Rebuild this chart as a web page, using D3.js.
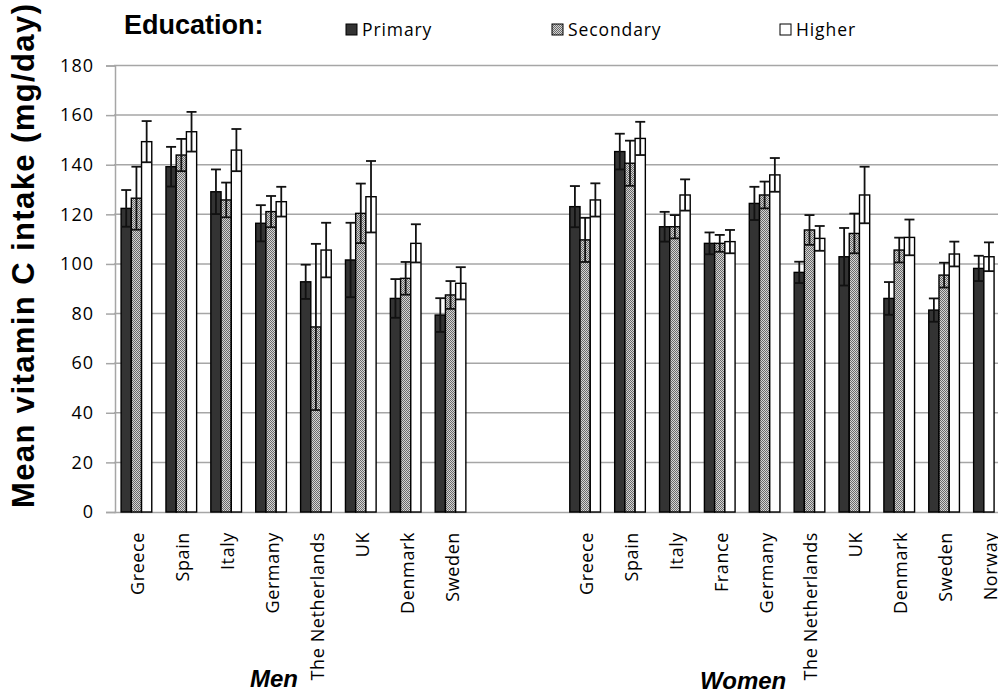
<!DOCTYPE html>
<html>
<head>
<meta charset="utf-8">
<script src="https://cdn.jsdelivr.net/npm/d3@7"></script>
<style>
  html, body { margin: 0; padding: 0; background: #fff; }
  svg { display: block; }
</style>
</head>
<body>
<svg id="chart" width="998" height="695"></svg>
<script>
// ---------------- DATA ----------------
const seriesNames = ["Primary", "Secondary", "Higher"];
const menCountries = ["Greece", "Spain", "Italy", "Germany", "The Netherlands", "UK", "Denmark", "Sweden"];
const womenCountries = ["Greece", "Spain", "Italy", "France", "Germany", "The Netherlands", "UK", "Denmark", "Sweden", "Norway"];
const gapSlots = 2;

const menPrimary      = [122.4, 139.2, 129.1, 116.4, 92.8, 101.6, 86.1, 79.4];
const menPrimaryErr   = [7.4, 8.0, 9.0, 7.3, 6.9, 15.0, 7.8, 6.8];
const menSecondary    = [126.5, 143.9, 125.8, 121.1, 74.6, 120.4, 94.2, 87.5];
const menSecondaryErr = [12.7, 6.5, 7.0, 6.3, 33.5, 12.0, 6.6, 5.6];
const menHigher       = [149.3, 153.3, 145.9, 125.1, 105.6, 127.1, 108.3, 92.2];
const menHigherErr    = [8.3, 8.0, 8.5, 6.0, 11.0, 14.4, 7.7, 6.5];

const womenPrimary      = [123.1, 145.3, 115.0, 108.3, 124.4, 96.6, 102.9, 86.1, 81.4, 98.2];
const womenPrimaryErr   = [8.3, 7.2, 6.0, 4.4, 6.7, 4.3, 11.6, 6.6, 4.7, 5.1];
const womenSecondary    = [109.7, 140.6, 115.0, 108.3, 127.8, 113.7, 112.3, 105.6, 95.5, null];
const womenSecondaryErr = [8.9, 9.1, 4.7, 3.4, 5.4, 6.0, 8.0, 5.0, 5.0, null];
const womenHigher       = [125.8, 150.6, 127.8, 109.0, 135.9, 110.3, 127.8, 110.7, 104.0, 102.9];
const womenHigherErr    = [6.7, 6.7, 6.3, 4.7, 6.8, 5.0, 11.4, 7.2, 5.0, 5.8];

const yTicks = [0, 20, 40, 60, 80, 100, 120, 140, 160, 180];
const yTitle = "Mean vitamin C intake (mg/day)";
const legendTitle = "Education:";
const groupLabels = ["Men", "Women"];

// ---------------- BUILD ROWS ----------------
const rows = [];
menCountries.forEach((c, i) => rows.push({
  label: c,
  vals: [menPrimary[i], menSecondary[i], menHigher[i]],
  errs: [menPrimaryErr[i], menSecondaryErr[i], menHigherErr[i]]
}));
for (let g = 0; g < gapSlots; g++) rows.push({ label: "", vals: [null, null, null], errs: [null, null, null] });
womenCountries.forEach((c, i) => rows.push({
  label: c,
  vals: [womenPrimary[i], womenSecondary[i], womenHigher[i]],
  errs: [womenPrimaryErr[i], womenSecondaryErr[i], womenHigherErr[i]]
}));
rows.forEach((r, i) => r.key = i);

// ---------------- SCALES ----------------
const svg = d3.select("#chart");
const left = 114, bandW = 44.87;
const x0 = d3.scaleBand().domain(rows.map(r => r.key)).range([left, left + bandW * rows.length]).padding(0);
const x1 = d3.scaleBand().domain([0, 1, 2]).range([7.1, bandW - 7.1]).padding(0);
const y = d3.scaleLinear().domain([0, 180]).range([512, 65.5]);

// pattern for secondary
const defs = svg.append("defs");
const pat = defs.append("pattern").attr("id", "checker").attr("patternUnits", "userSpaceOnUse")
  .attr("width", 2).attr("height", 2);
pat.append("rect").attr("width", 2).attr("height", 2).attr("fill", "#d4d4d4");
pat.append("rect").attr("width", 1).attr("height", 1).attr("fill", "#6a6a6a");
pat.append("rect").attr("x", 1).attr("y", 1).attr("width", 1).attr("height", 1).attr("fill", "#6a6a6a");
const fills = ["#333333", "url(#checker)", "#ffffff"];

// ---------------- GRID & AXES ----------------
const grid = svg.append("g");
grid.selectAll("line").data(yTicks.filter(t => t > 0)).join("line")
  .attr("x1", left).attr("x2", 998)
  .attr("y1", d => y(d)).attr("y2", d => y(d))
  .attr("stroke", "#a6a6a6").attr("stroke-width", 1.5);

const yAxis = svg.append("g").attr("transform", `translate(${left + 1},0)`)
  .call(d3.axisLeft(y).tickValues(yTicks).tickSize(9).tickPadding(12).tickFormat(d3.format("d")));
yAxis.select(".domain").attr("stroke", "#a6a6a6").attr("stroke-width", 1.5);
yAxis.selectAll(".tick line").attr("stroke", "#a6a6a6").attr("stroke-width", 1.5);
yAxis.selectAll(".tick text").attr("font-family", "'Open Sans', sans-serif").attr("font-size", 18)
  .attr("letter-spacing", 1).attr("fill", "#000");

// x axis line
const xAxis = svg.append("g").attr("transform", `translate(0,${y(0)})`)
  .call(d3.axisBottom(x0).tickSize(0).tickFormat(""));
xAxis.select(".domain").attr("stroke", "#a6a6a6").attr("stroke-width", 1.5);

// category labels
svg.append("g").selectAll("text").data(rows.filter(r => r.label)).join("text")
  .attr("transform", d => `translate(${x0(d.key) + bandW / 2 + 1},532) rotate(-90)`)
  .attr("text-anchor", "end").attr("dominant-baseline", "central")
  .attr("font-family", "'Open Sans', sans-serif").attr("font-size", 18).attr("letter-spacing", 0.6)
  .attr("fill", "#000")
  .text(d => d.label);

// ---------------- BARS ----------------
const barData = [];
rows.forEach(r => {
  let slot = 0;
  r.vals.forEach((v, s) => {
    if (v == null) return;
    barData.push({ key: r.key, s, slot, v, e: r.errs[s] });
    slot++;
  });
});
const bars = svg.append("g");
bars.selectAll("rect").data(barData).join("rect")
  .attr("x", d => x0(d.key) + x1(d.slot))
  .attr("y", d => y(d.v))
  .attr("width", x1.bandwidth())
  .attr("height", d => y(0) - y(d.v))
  .attr("fill", d => fills[d.s])
  .attr("stroke", "#000").attr("stroke-width", 1.4);

// error bars
const eb = svg.append("g").attr("stroke", "#111").attr("stroke-width", 1.8);
barData.forEach(d => {
  const cx = x0(d.key) + x1(d.slot) + x1.bandwidth() / 2;
  const top = y(d.v + d.e), bot = y(d.v - d.e);
  eb.append("line").attr("x1", cx).attr("x2", cx).attr("y1", top).attr("y2", bot);
  eb.append("line").attr("x1", cx - 5).attr("x2", cx + 5).attr("y1", top).attr("y2", top);
  eb.append("line").attr("x1", cx - 5).attr("x2", cx + 5).attr("y1", bot).attr("y2", bot);
});

// ---------------- TITLES ----------------
svg.append("text")
  .attr("transform", "translate(34,256) rotate(-90)")
  .attr("text-anchor", "middle")
  .attr("font-family", "'Liberation Sans', Arial, sans-serif").attr("font-weight", "bold")
  .attr("font-size", 31).attr("textLength", 504).attr("lengthAdjust", "spacing")
  .text(yTitle);

svg.append("text").attr("x", 124).attr("y", 34)
  .attr("font-family", "'Liberation Sans', Arial, sans-serif").attr("font-weight", "bold")
  .attr("font-size", 27).text(legendTitle);

// legend
const legX = [346, 552, 780];
const leg = svg.append("g");
seriesNames.forEach((n, i) => {
  leg.append("rect").attr("x", legX[i]).attr("y", 24).attr("width", 11).attr("height", 11)
    .attr("fill", fills[i]).attr("stroke", "#000").attr("stroke-width", 1);
  leg.append("text").attr("x", legX[i] + 16).attr("y", 36)
    .attr("font-family", "'Open Sans', sans-serif").attr("font-size", 17.5).attr("letter-spacing", 0.9)
    .text(n);
});

// group labels
const groupX = [250, 700], groupY = [687, 689];
groupLabels.forEach((g, i) => {
  svg.append("text").attr("x", groupX[i]).attr("y", groupY[i])
    .attr("font-family", "'Liberation Sans', Arial, sans-serif").attr("font-weight", "bold")
    .attr("font-style", "italic").attr("font-size", 24).text(g);
});
</script>
</body>
</html>
